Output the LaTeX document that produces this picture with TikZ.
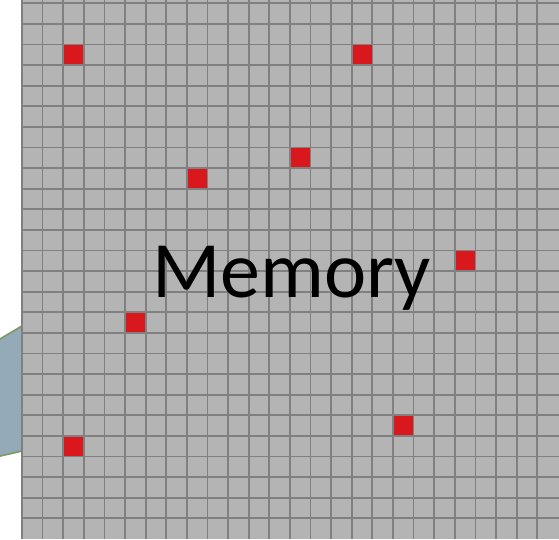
\documentclass[tikz,border=0pt]{standalone}
\usepackage{fontspec}
\setmainfont{Carlito}
\usetikzlibrary{positioning}
\definecolor{GridFill}{HTML}{B4B4B4}
\definecolor{GridLine}{HTML}{808080}
\definecolor{HitRed}{HTML}{D9181E}
\definecolor{Lens}{HTML}{95AAB9}
\definecolor{LensEdge}{HTML}{7D9A6C}

\begin{document}
\begin{tikzpicture}[x=0.02cm,y=-0.02cm,
          gridline/.style={draw=GridLine,line width=0.035cm},
          hit/.style={fill=HitRed},
          lens/.style={fill=Lens,draw=LensEdge,line width=0.035cm},
          label/.style={font=\fontsize{45.5}{50}\selectfont,text=black,inner sep=0pt}]
        \useasboundingbox (0,0) rectangle (559,539);
        \clip (0,0) rectangle (559,539);
        % wedge of the callout that comes in from the left
        \path[lens] (-10,345) -- (22,326) -- (22,451) -- (-10,458.3);
        \fill[GridFill] (22,0) rectangle (559,539);
        \foreach \i in {0,...,25}{%
          \draw[gridline] ({22+20.61*\i},0) -- ({22+20.61*\i},539);
          \draw[gridline] (22,{3.3+20.6*\i}) -- (559,{3.3+20.6*\i});
        }
        % occupied cells, column/row
        \foreach \c/\r in {2/2,16/2,13/7,8/8,21/12,5/15,18/20,2/21}{%
          \fill[hit] ({22+20.61*\c+0.8},{3.3+20.6*\r+0.8}) rectangle ++(19.0,19.0);
        }
        \node[label,anchor=base] (memory) at (291.5,297) {Memory};
      \end{tikzpicture}
\end{document}
